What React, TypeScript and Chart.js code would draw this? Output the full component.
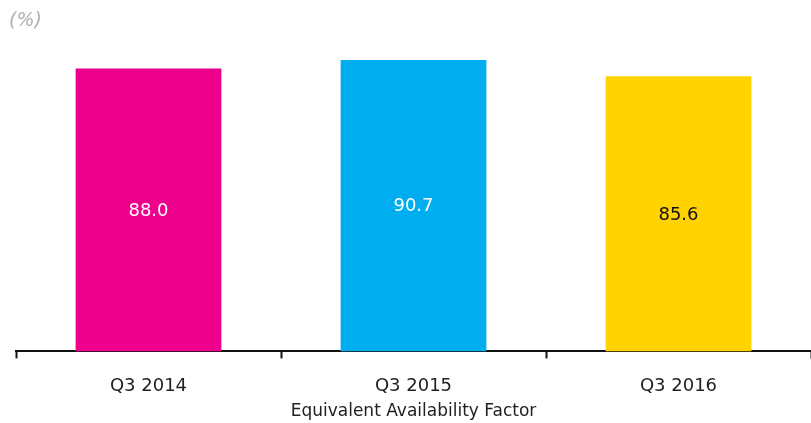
import React, { useEffect, useRef } from "react";
import { Chart, registerables } from "chart.js";

Chart.register(...registerables);

const categories = ["Q3 2014", "Q3 2015", "Q3 2016"];
const values = [88.0, 90.7, 85.6];
const barColors = ["#EC008C", "#00AEEF", "#FFD200"];
const labelColors = ["#ffffff", "#ffffff", "#111111"];
const axisTitle = "Equivalent Availability Factor";
const unitLabel = "(%)";

const FONT = "'DejaVu Sans', Verdana, sans-serif";

const valueLabels = {
  id: "valueLabels",
  afterDatasetsDraw(chart: any) {
    const ctx = chart.ctx;
    const meta = chart.getDatasetMeta(0);
    ctx.save();
    ctx.font = `18px ${FONT}`;
    ctx.textAlign = "center";
    ctx.textBaseline = "middle";
    meta.data.forEach((bar: any, i: number) => {
      const y = (bar.y + bar.base) / 2;
      ctx.fillStyle = labelColors[i];
      ctx.fillText(values[i].toFixed(1), bar.x, y + 1);
    });
    ctx.restore();
  },
};

const textPlugin = {
  id: "textPlugin",
  afterDraw(chart: any) {
    const ctx = chart.ctx;
    ctx.save();
    ctx.font = `italic 19px ${FONT}`;
    ctx.fillStyle = "#b0b0b0";
    ctx.textAlign = "left";
    ctx.textBaseline = "middle";
    ctx.fillText(unitLabel, 9, 21);
    const area = chart.chartArea;
    ctx.font = `17px ${FONT}`;
    ctx.fillStyle = "#222";
    ctx.textAlign = "center";
    ctx.fillText(axisTitle, (area.left + area.right) / 2, 412);
    ctx.restore();
  },
};

export default function App() {
  const ref = useRef<HTMLCanvasElement>(null);
  useEffect(() => {
    if (!ref.current) return;
    const chart = new Chart(ref.current, {
      type: "bar",
      data: {
        labels: categories,
        datasets: [
          {
            data: values,
            backgroundColor: barColors,
            borderWidth: 0,
            barPercentage: 0.55,
            categoryPercentage: 1,
          },
        ],
      },
      options: {
        animation: false,
        responsive: false,
        maintainAspectRatio: false,
        layout: { padding: { left: 16, top: 30, right: 0, bottom: 9 } },
        plugins: {
          legend: { display: false },
          tooltip: { enabled: false },
          title: { display: false },
        },
        scales: {
          y: { display: false, min: 0, max: 100 },
          x: {
            grid: {
              display: true,
              drawOnChartArea: false,
              drawTicks: true,
              tickLength: 7,
              tickWidth: 2,
              color: "#111",
              offset: true,
            },
            border: { display: true, color: "#111", width: 2 },
            ticks: {
              color: "#222",
              font: { family: FONT, size: 18 },
              padding: 17,
            },
          },
        },
      },
      plugins: [valueLabels, textPlugin],
    });
    return () => chart.destroy();
  }, []);
  return (
    <div style={{ position: "absolute", left: 0, top: 0, width: 811, height: 423 }}>
      <canvas ref={ref} width={811} height={423} style={{ display: "block" }} />
    </div>
  );
}
